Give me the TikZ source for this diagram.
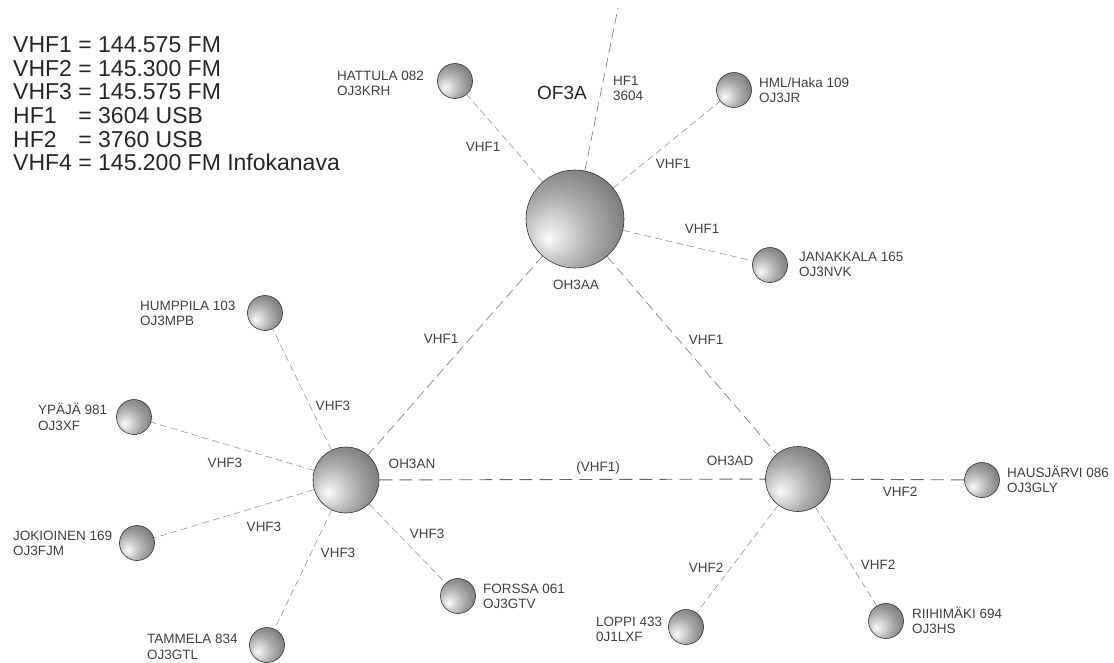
\documentclass[tikz,border=0pt]{standalone}
\usepackage{fontspec}
\setmainfont{Liberation Sans}
\pgfdeclareradialshading{globe}{\pgfpoint{-14bp}{-10bp}}{%
  color(0bp)=(black!2);
  color(5bp)=(black!10);
  color(20bp)=(black!34);
  color(38bp)=(black!56);
  color(50bp)=(black!67);
  color(72bp)=(black!76)}
\begin{document}
\begin{tikzpicture}[x=1pt,y=-1pt,
  sphere/.style={circle, inner sep=0pt, shading=globe, draw=black!80, line width=0.6pt},
  leaf/.style={sphere, minimum size=35pt},
  spoke/.style={draw=black!42, line width=0.6pt, dash pattern=on 7pt off 4pt},
  link/.style={draw=black!48, line width=0.7pt, dash pattern=on 10pt off 5pt},
  trunk/.style={draw=black!60, line width=0.9pt, dash pattern=on 13pt off 7pt},
  small/.style={font=\fontsize{13.5}{15.5}\selectfont, text=black!75, inner sep=0pt},
  place/.style={small, align=left, anchor=west},
  elab/.style={small}
]
\useasboundingbox (0,0) rectangle (1114,662);

% legend
\node[anchor=west, inner sep=0pt, text=black!85, font=\fontsize{23}{23.6}\selectfont] (legend) at (13,107)
 {\begin{tabular}{@{}l@{ }l@{}}
 VHF1 & = 144.575 FM\\
 VHF2 & = 145.300 FM\\
 VHF3 & = 145.575 FM\\
 HF1 & = 3604 USB\\
 HF2 & = 3760 USB\\
 VHF4 & = 145.200 FM Infokanava
 \end{tabular}};

% hubs
\node[sphere, minimum size=98pt] (aa) at (575,219) {};
\node[sphere, minimum size=66pt] (an) at (346,480) {};
\node[sphere, minimum size=65pt] (ad) at (798,479) {};

% leaves
\node[leaf] (hattula) at (455,81) {};
\node[leaf] (hml) at (734,90) {};
\node[leaf] (janakkala) at (770,265) {};
\node[leaf] (humppila) at (265,313) {};
\node[leaf] (ypaja) at (134,417) {};
\node[leaf] (jokioinen) at (137,543) {};
\node[leaf] (tammela) at (267,645) {};
\node[leaf] (forssa) at (458,596) {};
\node[leaf] (loppi) at (686,627) {};
\node[leaf] (riihimaki) at (886,621) {};
\node[leaf] (hausjarvi) at (982,480) {};
\coordinate (hfend) at (618,8);

% connectors
\draw[link] (aa) -- (hfend);
\draw[spoke] (aa) -- (hattula);
\draw[spoke] (aa) -- (hml);
\draw[spoke] (aa) -- (janakkala);
\draw[link] (aa) -- (an);
\draw[link] (aa) -- (ad);
\draw[trunk] (an) -- (ad);
\draw[spoke] (an) -- (humppila);
\draw[spoke] (an) -- (ypaja);
\draw[spoke] (an) -- (jokioinen);
\draw[spoke] (an) -- (tammela);
\draw[spoke] (an) -- (forssa);
\draw[trunk] (ad) -- (hausjarvi);
\draw[spoke] (ad) -- (loppi);
\draw[spoke] (ad) -- (riihimaki);

% place labels
\node[place] (lhattula) at (337,83.5) {HATTULA 082\\OJ3KRH};
\node[place] (lhml) at (759,90) {HML/Haka 109\\OJ3JR};
\node[place] (ljanakkala) at (799,264.5) {JANAKKALA 165\\OJ3NVK};
\node[place] (lhumppila) at (140,313.5) {HUMPPILA 103\\OJ3MPB};
\node[place] (lypaja) at (38,417) {YPÄJÄ 981\\OJ3XF};
\node[place] (ljokioinen) at (13,543.5) {JOKIOINEN 169\\OJ3FJM};
\node[place] (ltammela) at (147,647) {TAMMELA 834\\OJ3GTL};
\node[place] (lforssa) at (483,596.5) {FORSSA 061\\OJ3GTV};
\node[place] (lloppi) at (596,629.5) {LOPPI 433\\0J1LXF};
\node[place] (lriihimaki) at (912,620.5) {RIIHIMÄKI 694\\OJ3HS};
\node[place] (lhausjarvi) at (1007,479.5) {HAUSJÄRVI 086\\OJ3GLY};

% hub labels
\node[small] (laa) at (576,285) {OH3AA};
\node[small] (lan) at (412,464) {OH3AN};
\node[small] (lad) at (730,461) {OH3AD};
\node[inner sep=0pt, text=black!85, font=\fontsize{19}{21}\selectfont] (of3a) at (562,93) {OF3A};
\node[place] (lhf) at (613,88.5) {HF1\\3604};

% edge labels
\node[elab] (e1) at (483,147) {VHF1};
\node[elab] (e2) at (673,164) {VHF1};
\node[elab] (e3) at (702,229) {VHF1};
\node[elab] (e4) at (441,339) {VHF1};
\node[elab] (e5) at (706,340) {VHF1};
\node[elab] (e6) at (598,468) {(VHF1)};
\node[elab] (e7) at (333,406) {VHF3};
\node[elab] (e8) at (225,463) {VHF3};
\node[elab] (e9) at (264,527) {VHF3};
\node[elab] (e10) at (338,553) {VHF3};
\node[elab] (e11) at (427,534) {VHF3};
\node[elab] (e12) at (900,492) {VHF2};
\node[elab] (e13) at (706,568) {VHF2};
\node[elab] (e14) at (878,565) {VHF2};
\end{tikzpicture}
\end{document}
